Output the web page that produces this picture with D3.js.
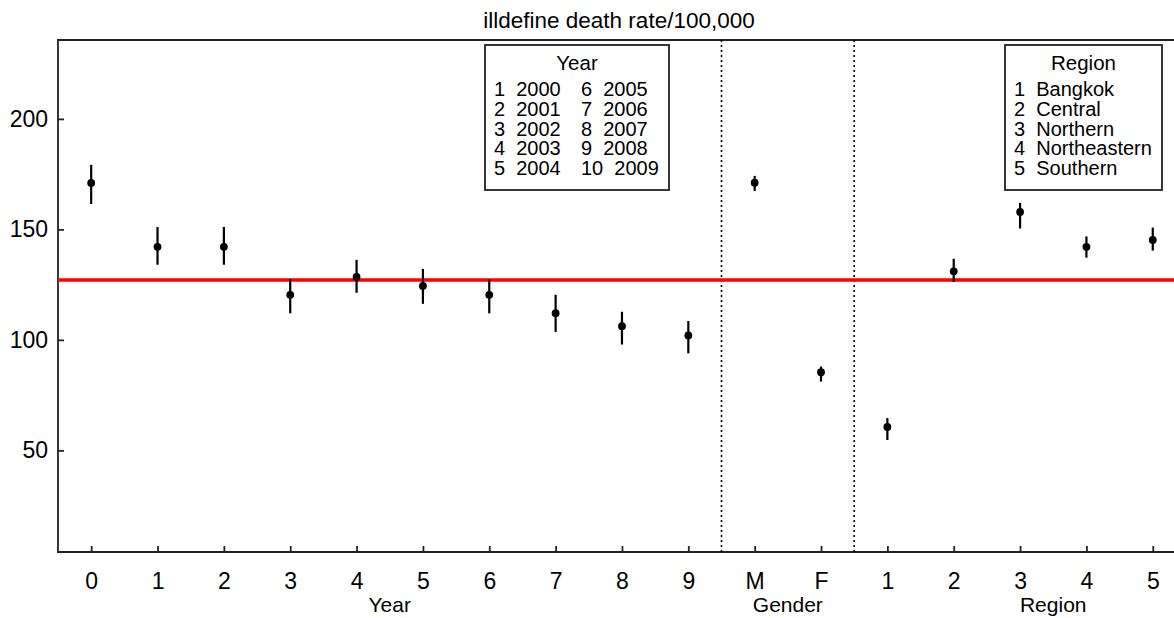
<!DOCTYPE html>
<html>
<head>
<meta charset="utf-8">
<script src="https://cdn.jsdelivr.net/npm/d3@7"></script>
<style>
  body { margin: 0; background: #fff; }
  text { font-family: "Liberation Sans", Arial, sans-serif; fill: #000; }
</style>
</head>
<body>
<div id="chart"></div>
<script>
// tick labels along the bottom, one per estimate
let tickLabels = ["0","1","2","3","4","5","6","7","8","9","M","F","1","2","3","4","5"];
// point estimates and their interval ends
let rate  = [171.0,142.1,142.1,120.4,128.5,124.4,120.4,112.1,106.2,102.0,171.1,85.4,60.6,131.0,157.9,142.1,145.2];
let lower = [161.5,134.0,134.0,112.0,121.3,116.3,112.0,103.6, 97.9, 93.9,167.4,81.1,54.7,126.2,150.4,137.2,140.4];
let upper = [179.2,151.1,151.1,127.6,136.2,132.1,127.3,120.4,112.7,108.5,174.2,87.9,64.6,136.7,162.0,146.8,150.8];
let overall = 127.1;
let yTicks = [50,100,150,200];
let groupNames = ["Year","Gender","Region"];
let groupCentre = [4.5,10.5,14.5];
let dividers = [9.5,11.5];
let yearNo = ["1","2","3","4","5","6","7","8","9","10"];
let yearName = ["2000","2001","2002","2003","2004","2005","2006","2007","2008","2009"];
let regionNo = ["1","2","3","4","5"];
let regionName = ["Bangkok","Central","Northern","Northeastern","Southern"];

let width = 1174, height = 618;
let pLeft = 58, pTop = 40, pRight = 1174, pBottom = 552;

let svg = d3.select("#chart").append("svg").attr("width",width).attr("height",height);

let x = d3.scaleLinear().domain([-0.5,16.32]).range([pLeft,pRight]);
let y = d3.scaleLinear().domain([4,235.7]).range([pBottom,pTop]);

// title
svg.append("text").attr("x",619).attr("y",28).attr("text-anchor","middle")
  .style("font-size","22.5px").text("illdefine death rate/100,000");

// frame (right side runs off the picture)
svg.append("path")
  .attr("d",`M${pRight},${pTop}H${pLeft}V${pBottom}H${pRight}`)
  .attr("fill","none").attr("stroke","#222").attr("stroke-width",1.8);

// x axis, ticks pointing inward
let xAxis = svg.append("g").attr("transform",`translate(0,${pBottom})`)
  .call(d3.axisBottom(x).tickValues(d3.range(tickLabels.length))
    .tickFormat(i => tickLabels[i]).tickSizeInner(-6).tickSizeOuter(0).tickPadding(21));
xAxis.select(".domain").remove();
xAxis.selectAll("line").attr("stroke","#222").attr("stroke-width",1.8);
xAxis.selectAll("text").style("font-size","23px").style("font-family","Liberation Sans, Arial, sans-serif");

let yAxis = svg.append("g").attr("transform",`translate(${pLeft},0)`)
  .call(d3.axisLeft(y).tickValues(yTicks).tickSizeInner(-6).tickSizeOuter(0).tickPadding(10));
yAxis.select(".domain").remove();
yAxis.selectAll("line").attr("stroke","#222").attr("stroke-width",1.8);
yAxis.selectAll("text").style("font-size","23px").style("font-family","Liberation Sans, Arial, sans-serif");

// group labels under the ticks
svg.selectAll(".grp").data(groupNames).enter().append("text")
  .attr("class","grp").attr("x",(d,i) => x(groupCentre[i])).attr("y",612)
  .attr("text-anchor","middle").style("font-size","21px").text(d => d);

// dotted separators
svg.selectAll(".sep").data(dividers).enter().append("line")
  .attr("class","sep").attr("x1",d => x(d)).attr("x2",d => x(d))
  .attr("y1",pTop).attr("y2",pBottom)
  .attr("stroke","#000").attr("stroke-width",1.6).attr("stroke-dasharray","2,3");

// overall line
svg.append("line").attr("x1",pLeft).attr("x2",pRight)
  .attr("y1",y(overall)).attr("y2",y(overall))
  .attr("stroke","#ff0000").attr("stroke-width",3.5);

// error bars and points
let pts = svg.append("g");
pts.selectAll(".bar").data(rate).enter().append("line")
  .attr("class","bar").attr("x1",(d,i) => x(i)).attr("x2",(d,i) => x(i))
  .attr("y1",(d,i) => y(lower[i])).attr("y2",(d,i) => y(upper[i]))
  .attr("stroke","#000").attr("stroke-width",2.2);
pts.selectAll(".dot").data(rate).enter().append("circle")
  .attr("class","dot").attr("cx",(d,i) => x(i)).attr("cy",d => y(d))
  .attr("r",3.9).attr("fill","#000");

// legend boxes
function legendBox(bx, by, bw, bh, title, nums, names, cols){
  let g = svg.append("g").attr("transform",`translate(${bx},${by})`);
  g.append("rect").attr("width",bw).attr("height",bh)
    .attr("fill","#fff").attr("stroke","#222").attr("stroke-width",1.8);
  g.append("text").attr("x",bw/2).attr("y",25).attr("text-anchor","middle")
    .style("font-size","20.5px").text(title);
  let perCol = Math.ceil(nums.length/cols.length);
  nums.forEach((n,i) => {
    let c = Math.floor(i/perCol), r = i % perCol;
    g.append("text").attr("x",cols[c]).attr("y",51 + r*19.75)
      .style("font-size","20px").style("white-space","pre")
      .text(n + "  " + names[i]);
  });
}
legendBox(485,45,184,145,"Year",yearNo,yearName,[9,96]);
legendBox(1005,45,157,145,"Region",regionNo,regionName,[9]);
</script>
</body>
</html>
